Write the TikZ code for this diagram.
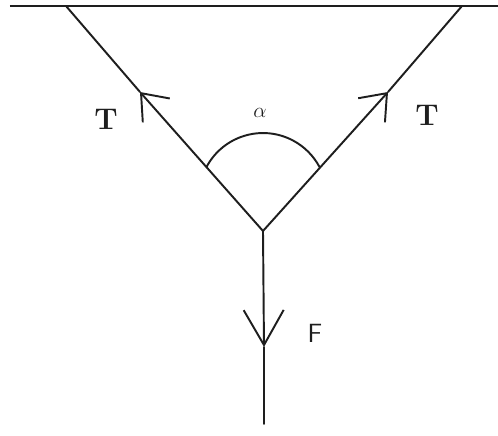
\documentclass[tikz,border=0pt]{standalone}
\usepackage{amsmath}
\usepackage{tikz}
\usetikzlibrary{arrows.meta,positioning}
\definecolor{fdink}{RGB}{30,30,30}
\tikzset{
  rope/.style={draw=fdink, line width=1.1pt, line cap=round},
  beam/.style={draw=fdink, line width=1.6pt},
  vtip/.style={rope, -{Straight Barb[length=4.6mm,width=7.2mm,line width=1.1pt]}},
  ftip/.style={rope, -{Straight Barb[length=7mm,width=8mm,line width=1.1pt]}},
  tlbl/.style={font=\fontsize{17}{20}\selectfont\bfseries, text=fdink, inner sep=0pt},
  flbl/.style={font=\fontsize{15}{18}\selectfont\sffamily, text=fdink, inner sep=0pt},
  albl/.style={font=\fontsize{12}{14}\selectfont, text=fdink, inner sep=0pt}
}
\begin{document}
\begin{tikzpicture}[x=0.2mm,y=0.2mm]
  \useasboundingbox (0,0) rectangle (498,436);
  % ceiling and hanging points
  \coordinate (bl) at (10,430);
  \coordinate (br) at (498,430);
  \coordinate (hl) at (66,430);
  \coordinate (hr) at (462,430);
  \coordinate (knot) at (263,205);
  \coordinate (tl) at (140,344);
  \coordinate (tr) at (388,344);
  \coordinate (tf) at (264,89);
  \coordinate (low) at (264,12);
  \draw[beam] (bl) -- (br);
  % strings, tips half way
  \draw[vtip] (knot) -- (tl);
  \draw[rope] (tl) -- (hl);
  \draw[vtip] (knot) -- (tr);
  \draw[rope] (tr) -- (hr);
  \draw[ftip] (knot) -- (tf);
  \draw[rope] (tf) -- (low);
  % angle between strings
  \draw[rope] (knot) ++(-56.5,64) arc[start angle=152, end angle=28, radius=64];
  \node[albl] (alpha) at (260,323) {$\alpha$};
  \node[tlbl] (tleft) at (106,317) {T};
  \node[tlbl] (tright) at (427,321) {T};
  \node[flbl] (force) at (315,103) {F};
\end{tikzpicture}
\end{document}
